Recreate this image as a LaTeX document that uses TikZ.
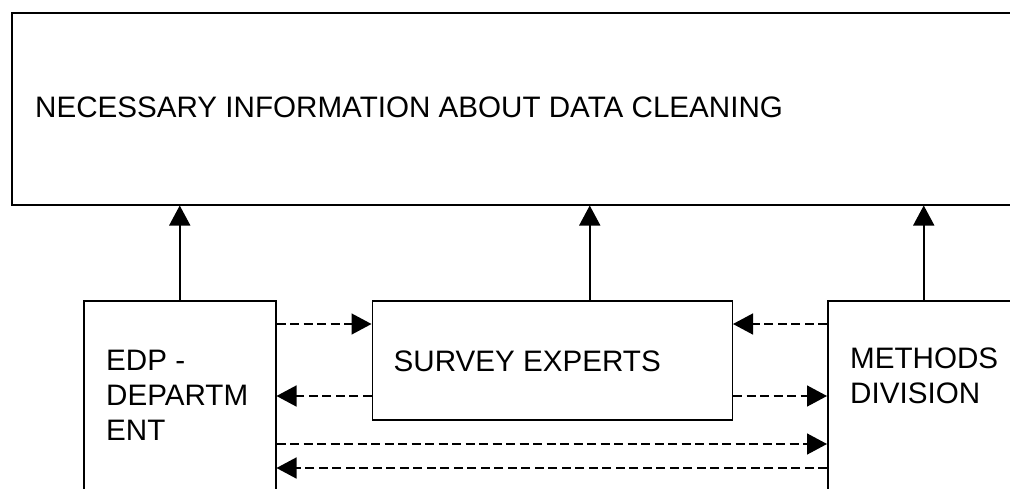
\documentclass[tikz,border=0pt]{standalone}
\usepackage{fontspec}
\setmainfont{Liberation Sans}
\usetikzlibrary{arrows.meta}

\begin{document}
\begin{tikzpicture}[x=1pt,y=-1pt,
	box/.style={draw, line width=1.5pt, inner sep=0pt, anchor=north west},
	txt/.style={inner sep=0pt, align=left, font=\fontsize{29.6}{35}\selectfont},
	up/.style={-{Triangle[length=20pt,width=21pt]}, line width=1.5pt},
	flow/.style={up, dash pattern=on 9pt off 4.5pt}]
	
	\useasboundingbox (0,0) rectangle (1010,488);
	\clip (0,0) rectangle (1010,488);
	
	% boxes
	\node[box, minimum width=1009pt, minimum height=192pt] (info) at (11,12) {};
	\node[box, minimum width=192pt, minimum height=230pt] (edp) at (83,300) {};
	\node[box, minimum width=360pt, minimum height=119pt] (se) at (371.5,300) {};
	\node[box, minimum width=192pt, minimum height=230pt] (md) at (827,300) {};
	
	% labels
	\node[txt, anchor=west] (infotxt) at (35,107) {NECESSARY INFORMATION ABOUT DATA CLEANING};
	\node[txt, anchor=north west] (edptxt) at (106,350) {EDP -\\DEPARTM\\ENT};
	\node[txt, anchor=west] (setxt) at (393.5,361.5) {SURVEY EXPERTS};
	\node[txt, anchor=north west] (mdtxt) at (850,348) {METHODS\\DIVISION};
	
	% up to the top box
	\coordinate (setop) at ([xshift=37.5pt]se.north);
	\draw[up] (edp.north) -- (edp.north |- info.south);
	\draw[up] (setop) -- (setop |- info.south);
	\draw[up] (md.north) -- (md.north |- info.south);
	
	% exchange between the units
	\draw[flow] ([yshift=-24pt]edp.north east) -- ([yshift=-24pt]se.north west);
	\draw[flow] ([yshift=-24pt]md.north west) -- ([yshift=-24pt]se.north east);
	\draw[flow] ([yshift=-96pt]se.north west) -- ([yshift=-96pt]edp.north east);
	\draw[flow] ([yshift=-96pt]se.north east) -- ([yshift=-96pt]md.north west);
	\draw[flow] ([yshift=-144pt]edp.north east) -- ([yshift=-144pt]md.north west);
	\draw[flow] ([yshift=-168pt]md.north west) -- ([yshift=-168pt]edp.north east);
\end{tikzpicture}
\end{document}
